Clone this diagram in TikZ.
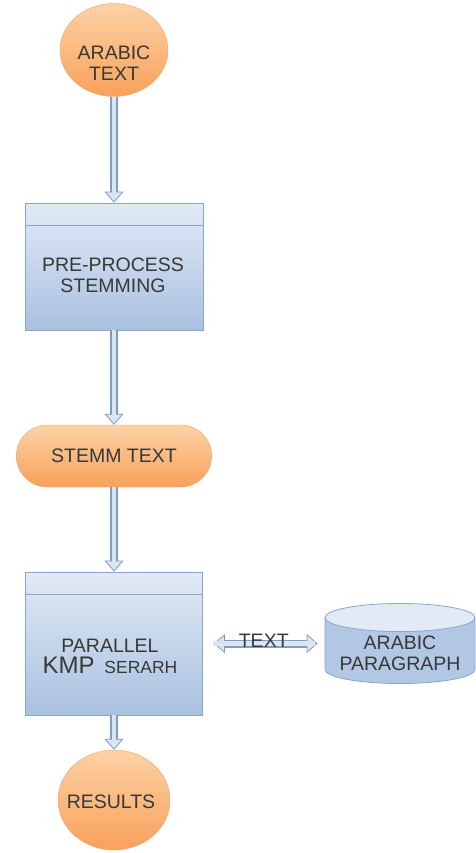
\documentclass[tikz,border=0pt]{standalone}
\usepackage{fontspec}
\setmainfont{Liberation Sans}
\usetikzlibrary{arrows.meta,shapes.geometric,shapes.misc}

\definecolor{orangetop}{HTML}{FDD2A6}
\definecolor{orangebot}{HTML}{F8A15A}
\definecolor{orangeline}{HTML}{F2A468}
\definecolor{boxtop}{HTML}{E1EAF5}
\definecolor{boxbot}{HTML}{A9C1E0}
\definecolor{boxline}{HTML}{8AA5CB}
\definecolor{arrowline}{HTML}{7E9CC6}
\definecolor{arrowfill}{HTML}{DCE6F2}
\definecolor{labelgray}{HTML}{383838}

\tikzstyle{flow}=[draw=arrowline, line width=8pt,
  -{Triangle[length=11pt,width=19pt,line width=0.8pt,fill=arrowfill]},
  postaction={draw=arrowfill, line width=4.5pt, shorten >=10pt, -}]
\tikzstyle{twoway}=[draw=arrowline, line width=8pt,
  {Triangle[length=11pt,width=19pt,line width=0.8pt,fill=arrowfill]}-{Triangle[length=11pt,width=19pt,line width=0.8pt,fill=arrowfill]},
  postaction={draw=arrowfill, line width=4.5pt, shorten >=10pt, shorten <=10pt, -}]

\begin{document}
\begin{tikzpicture}[x=1pt,y=1pt,
    ball/.style={ellipse,draw=orangeline,top color=orangetop,bottom color=orangebot},
    pill/.style={rounded rectangle,draw=orangeline,top color=orangetop,bottom color=orangebot,
      minimum width=202pt,minimum height=62pt},
    proc/.style={rectangle,draw=boxline,top color=boxtop,bottom color=boxbot,line width=0.8pt},
    store/.style={cylinder,shape border rotate=90,aspect=0.22,draw=boxline,line width=0.8pt,
      cylinder uses custom fill,cylinder body fill=boxbot!85!boxtop,cylinder end fill=boxtop,
      minimum width=150pt,minimum height=80pt,align=center},
    txt/.style={align=center,text=labelgray,font=\fontsize{19.5}{21}\selectfont}]
  \useasboundingbox (0,0) rectangle (475,-853);

  % shapes
  \node [ball,minimum width=108pt,minimum height=93pt] (arabic) at (114,-50) {};
  \node [txt] (arabictxt) at (114,-63) {ARABIC\\TEXT};

  \node [proc,minimum width=178pt,minimum height=127pt] (pre) at (114,-266.5) {};
  \draw [boxline,line width=0.8pt] ([yshift=-23pt]pre.north west) -- ([yshift=-23pt]pre.north east);
  \node [txt] (pretxt) at (113,-275) {PRE-PROCESS\\STEMMING};

  \node [pill,txt] (stem) at (114,-456) {STEMM TEXT};

  \node [proc,minimum width=177pt,minimum height=143pt] (kmp) at (114,-643.5) {};
  \draw [boxline,line width=0.8pt] ([yshift=-23pt]kmp.north west) -- ([yshift=-23pt]kmp.north east);
  \node [txt] (kmptxt) at (110,-656) {PARALLEL\\{\fontsize{24}{24}\selectfont KMP}\,\,\,{\fontsize{17.5}{17}\selectfont SERARH}};

  \node [store,txt,anchor=shape center] (para) at (400,-643.5) {ARABIC\\PARAGRAPH};
  \coordinate (paraport) at (para.west |- kmp.east);

  \node [ball,minimum width=112pt,minimum height=100pt] (results) at (114,-800) {};
  \node [txt] (resultstxt) at (111,-802) {RESULTS};

  % connectors
  \path
  (arabic.south) edge [flow] (pre.north)
  (pre.south)    edge [flow] (stem.north)
  (stem.south)   edge [flow] (kmp.north)
  (kmp.south)    edge [flow] (results.north)
  (kmp.east)     edge [twoway,shorten <=11pt,shorten >=7pt]
                 node [txt,yshift=3pt] {TEXT} (paraport);
\end{tikzpicture}
\end{document}
